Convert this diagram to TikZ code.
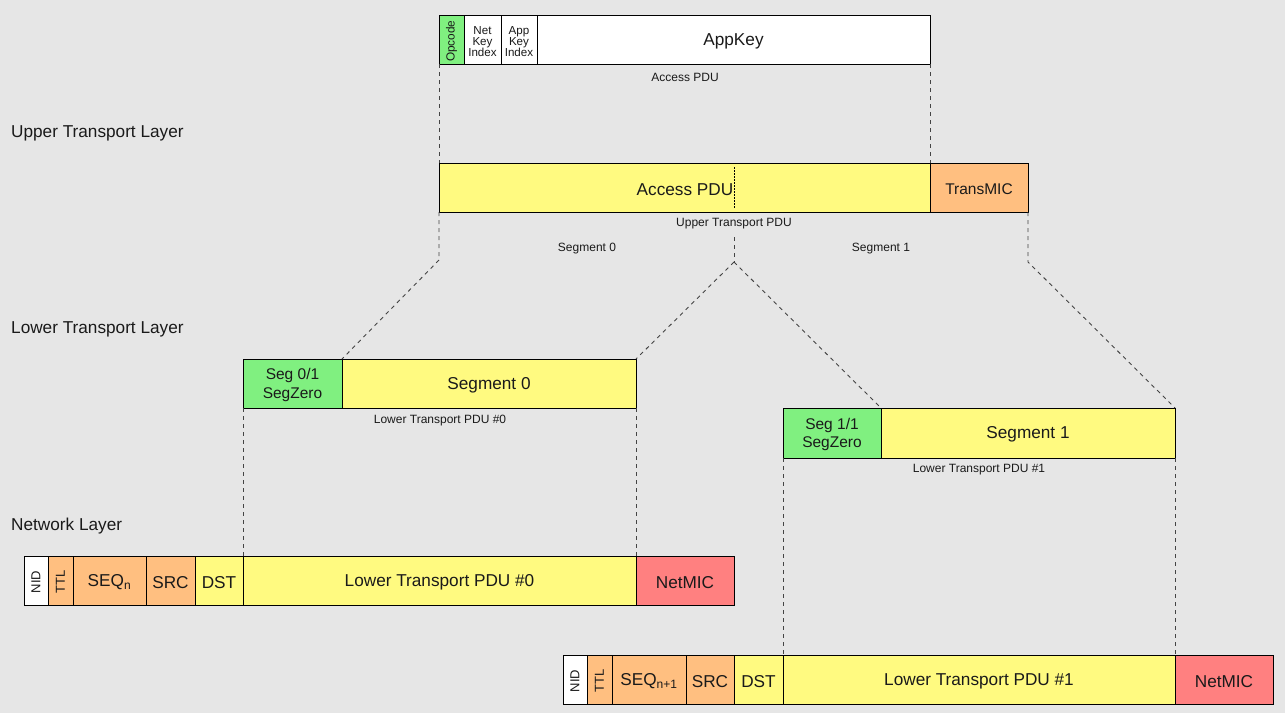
\documentclass[tikz,border=0pt]{standalone}
\usepackage{fontspec}
\setmainfont{Liberation Sans}
\definecolor{bgc}{HTML}{E6E6E6}
\definecolor{fgreen}{HTML}{80F080}
\definecolor{fyellow}{HTML}{FFFA80}
\definecolor{forange}{HTML}{FFBF80}
\definecolor{fred}{HTML}{FF8080}
\definecolor{gline}{HTML}{444444}
\definecolor{txt}{HTML}{1A1A1A}

\tikzset{
  cell/.style={draw=black, line width=0.9pt, inner sep=0pt, outer sep=0pt},
  lbl/.style={inner sep=0pt, text=txt, align=center},
  big/.style={lbl, font=\fontsize{17.2}{20}\selectfont},
  mid/.style={lbl, font=\fontsize{15.5}{18.5}\selectfont},
  small/.style={lbl, font=\fontsize{12}{14}\selectfont},
  tiny/.style={lbl, font=\fontsize{11.6}{11}\selectfont},
  vert/.style={lbl, rotate=90, font=\fontsize{11.8}{12}\selectfont},
  vertbig/.style={lbl, rotate=90, font=\fontsize{13}{13}\selectfont},
  guide/.style={draw=gline, line width=0.9pt, dash pattern=on 4pt off 4pt},
}

% \fieldbox{name}{x1}{x2}{y1}{y2}{fill}{text style}{text}
\newcommand\fieldbox[8]{%
  \node[cell,fill=#6,minimum width={(#3-#2)*1pt},minimum height={(#5-#4)*1pt}]
    (#1) at ({(#2+#3)/2},{(#4+#5)/2}) {};
  \node[#7] (#1-t) at ([yshift=-1.6pt]#1.center) {#8};}

\begin{document}
\begin{tikzpicture}[x=1pt,y=-1pt]
  \fill[bgc] (0,0) rectangle (1285,713);
  \useasboundingbox (0,0) rectangle (1285,713);

  % layer captions
  \node[big, anchor=west] (lupper) at (11,133.5) {Upper Transport Layer};
  \node[big, anchor=west] (llower) at (11,329.5) {Lower Transport Layer};
  \node[big, anchor=west] (lnet)   at (11,526.5) {Network Layer};

  % access PDU
  \fieldbox{opc}{439}{464}{15}{64}{fgreen}{vert}{Opcode}
  \fieldbox{nki}{464}{501}{15}{64}{white}{tiny}{Net\\Key\\Index}
  \fieldbox{aki}{501}{537}{15}{64}{white}{tiny}{App\\Key\\Index}
  \fieldbox{akey}{537}{930}{15}{64}{white}{big}{AppKey}
  \node[small] (accl) at (685,77.5) {Access PDU};

  % upper transport PDU
  \fieldbox{upa}{439}{930}{163}{212}{fyellow}{big}{}
  \fieldbox{tmic}{930}{1028}{163}{212}{forange}{mid}{TransMIC}
  \node[big] (upat) at (685,189.5) {Access PDU};
  \coordinate (dtop) at (734,167);
  \coordinate (dbot) at (734,208);
  \draw[black, line width=0.8pt, dash pattern=on 1.5pt off 1.5pt] (dtop) -- (dbot);
  \node[small] (utl) at (734,224) {Upper Transport PDU};
  \node[small] (sg0l) at (587,249) {Segment 0};
  \node[small] (sg1l) at (881,249) {Segment 1};

  % lower transport PDUs
  \fieldbox{s0h}{243}{342}{359}{408}{fgreen}{mid}{Seg 0/1\\SegZero}
  \fieldbox{s0b}{342}{636}{359}{408}{fyellow}{big}{Segment 0}
  \node[small] (ltl0) at (440,421) {Lower Transport PDU \#0};
  \fieldbox{s1h}{783}{881}{408}{458}{fgreen}{mid}{Seg 1/1\\SegZero}
  \fieldbox{s1b}{881}{1175}{408}{458}{fyellow}{big}{Segment 1}
  \node[small] (ltl1) at (979,470) {Lower Transport PDU \#1};

  % network PDU #0
  \fieldbox{nid0}{24}{48}{556}{605}{white}{vertbig}{NID}
  \fieldbox{ttl0}{48}{73}{556}{605}{forange}{vertbig}{TTL}
  \fieldbox{seq0}{73}{146}{556}{605}{forange}{big}{SEQ\textsubscript{n}}
  \fieldbox{src0}{146}{195}{556}{605}{forange}{big}{SRC}
  \fieldbox{dst0}{195}{243}{556}{605}{fyellow}{big}{DST}
  \fieldbox{pdu0}{243}{636}{556}{605}{fyellow}{big}{Lower Transport PDU \#0}
  \fieldbox{mic0}{636}{734}{556}{605}{fred}{big}{NetMIC}

  % network PDU #1
  \fieldbox{nid1}{563}{587}{655}{704}{white}{vertbig}{NID}
  \fieldbox{ttl1}{587}{612}{655}{704}{forange}{vertbig}{TTL}
  \fieldbox{seq1}{612}{686}{655}{704}{forange}{big}{SEQ\textsubscript{n+1}}
  \fieldbox{src1}{686}{734}{655}{704}{forange}{big}{SRC}
  \fieldbox{dst1}{734}{783}{655}{704}{fyellow}{big}{DST}
  \fieldbox{pdu1}{783}{1175}{655}{704}{fyellow}{big}{Lower Transport PDU \#1}
  \fieldbox{mic1}{1175}{1273}{655}{704}{fred}{big}{NetMIC}

  % guide lines between layers
  \coordinate (kL) at (439,260);
  \coordinate (kMt) at (734,237);
  \coordinate (kM) at (734,262);
  \coordinate (kR) at (1028,262);
  \draw[guide] (opc.south west) -- (upa.north west);
  \draw[guide] (akey.south east) -- (upa.north east);
  \draw[guide] (upa.south west) -- (kL) -- (s0h.north east);
  \draw[guide] (kMt) -- (kM);
  \draw[guide] (kM) -- (s0b.north east);
  \draw[guide] (kM) -- (s1h.north east);
  \draw[guide] (tmic.south east) -- (kR) -- (s1b.north east);
  \draw[guide] (s0h.south west) -- (pdu0.north west);
  \draw[guide] (s0b.south east) -- (pdu0.north east);
  \draw[guide] (s1h.south west) -- (pdu1.north west);
  \draw[guide] (s1b.south east) -- (pdu1.north east);
\end{tikzpicture}
\end{document}
